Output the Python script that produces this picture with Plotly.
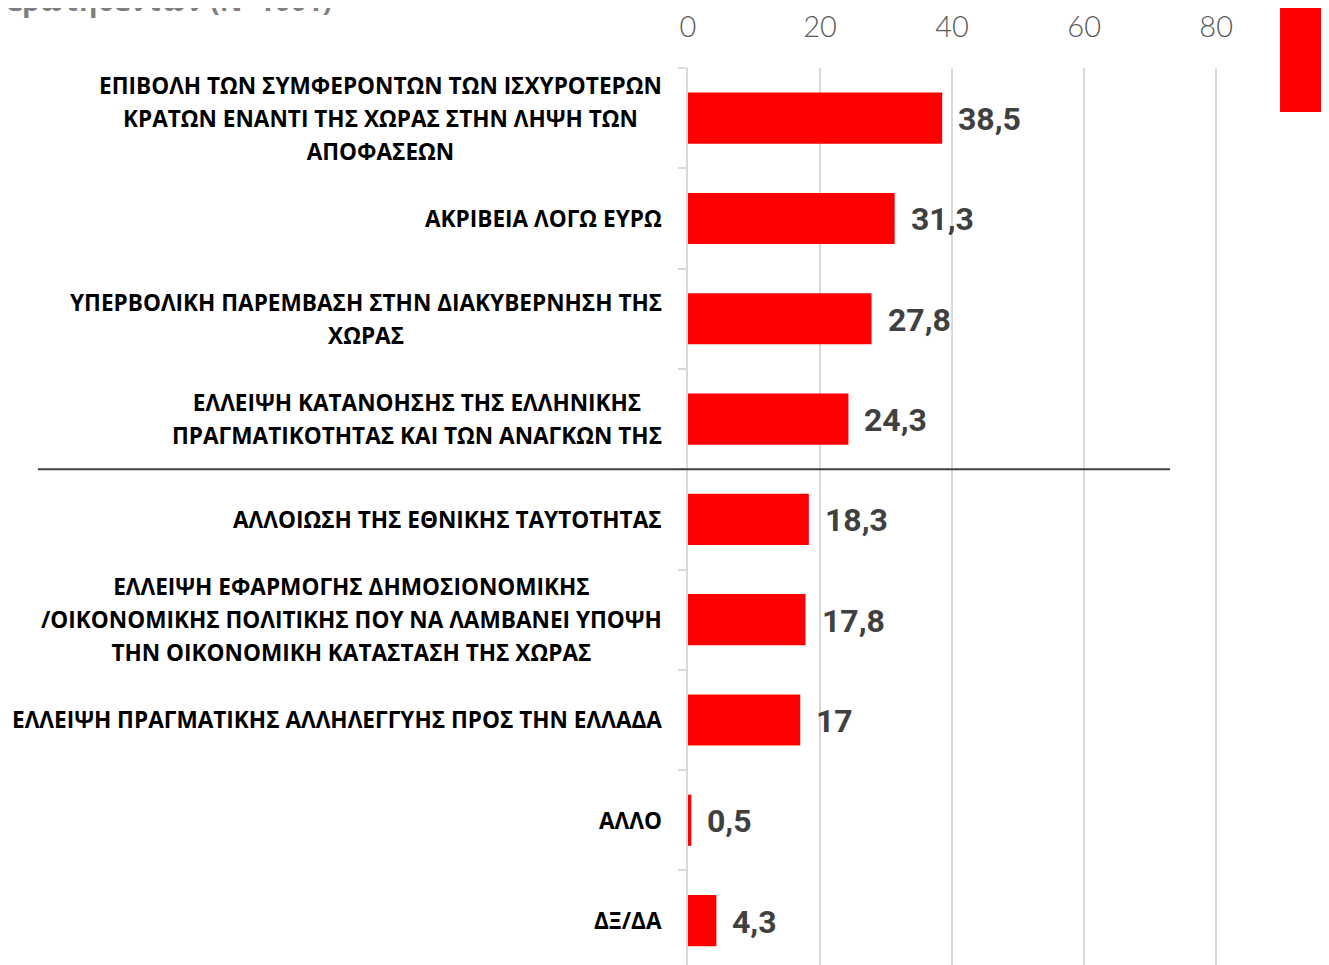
import plotly.graph_objects as go

categories = [
    "ΕΠΙΒΟΛΗ ΤΩΝ ΣΥΜΦΕΡΟΝΤΩΝ ΤΩΝ ΙΣΧΥΡΟΤΕΡΩΝ<br>ΚΡΑΤΩΝ ΕΝΑΝΤΙ ΤΗΣ ΧΩΡΑΣ ΣΤΗΝ ΛΗΨΗ ΤΩΝ<br>ΑΠΟΦΑΣΕΩΝ",
    "ΑΚΡΙΒΕΙΑ ΛΟΓΩ ΕΥΡΩ",
    "ΥΠΕΡΒΟΛΙΚΗ ΠΑΡΕΜΒΑΣΗ ΣΤΗΝ ΔΙΑΚΥΒΕΡΝΗΣΗ ΤΗΣ<br>ΧΩΡΑΣ",
    "ΕΛΛΕΙΨΗ ΚΑΤΑΝΟΗΣΗΣ ΤΗΣ ΕΛΛΗΝΙΚΗΣ<br>ΠΡΑΓΜΑΤΙΚΟΤΗΤΑΣ ΚΑΙ ΤΩΝ ΑΝΑΓΚΩΝ ΤΗΣ",
    "ΑΛΛΟΙΩΣΗ ΤΗΣ ΕΘΝΙΚΗΣ ΤΑΥΤΟΤΗΤΑΣ",
    "ΕΛΛΕΙΨΗ ΕΦΑΡΜΟΓΗΣ ΔΗΜΟΣΙΟΝΟΜΙΚΗΣ<br>/ΟΙΚΟΝΟΜΙΚΗΣ ΠΟΛΙΤΙΚΗΣ ΠΟΥ ΝΑ ΛΑΜΒΑΝΕΙ ΥΠΟΨΗ<br>ΤΗΝ ΟΙΚΟΝΟΜΙΚΗ ΚΑΤΑΣΤΑΣΗ ΤΗΣ ΧΩΡΑΣ",
    "ΕΛΛΕΙΨΗ ΠΡΑΓΜΑΤΙΚΗΣ ΑΛΛΗΛΕΓΓΥΗΣ ΠΡΟΣ ΤΗΝ ΕΛΛΑΔΑ",
    "ΑΛΛΟ",
    "ΔΞ/ΔΑ",
]
values = [38.5, 31.3, 27.8, 24.3, 18.3, 17.8, 17, 0.5, 4.3]
x_ticks = [0, 20, 40, 60, 80]
title_text = "ερωτηθέντων (Ν=1001)"

# page body has an 8px margin, so the figure is 8px smaller than the window
W, H = 1321, 957
left, right, top, bottom = 680, 60, 60, 0

fig = go.Figure(go.Bar(
    x=values,
    y=categories,
    orientation='h',
    marker_color='#ff0000',
    marker_line_width=0,
    hoverinfo='skip',
))

label_font = "Open Sans, Arial"
for cat, val in zip(categories, values):
    lines = cat.split("<br>")
    # outer size sets the line spacing (~33px), inner span sets the glyph size
    txt = "<br>".join(f"<span style='font-size:22.6px'><b>{ln}</b></span>" for ln in lines)
    fig.add_annotation(
        x=0, y=cat, xref='x', yref='y', text=txt, showarrow=False,
        xanchor='right', yanchor='middle', align='center', xshift=-24,
        font=dict(family=label_font, size=25.4, color='#000000'),
    )
    fig.add_annotation(
        x=val, y=cat, xref='x', yref='y',
        text=f"<b>{val:g}</b>".replace('.', ','), showarrow=False,
        xanchor='left', yanchor='middle', xshift=14, yshift=-1,
        font=dict(family="Roboto, Arial", size=32, color='#404040'),
    )

# cropped title remnant at the top left
fig.add_annotation(
    x=-1.1756, y=1.0525, xref='paper', yref='paper', text=f"<b>{title_text}</b>",
    showarrow=False, xanchor='left', yanchor='bottom',
    font=dict(family="Open Sans, Arial", size=28, color='#7f7f7f'),
)

# separator line between top four reasons and the rest
fig.add_shape(type='line', xref='paper', yref='paper',
              x0=-1.1188, x1=0.8296, y0=0.5527, y1=0.5527,
              line=dict(color='#404040', width=2))
# legend swatch cut at the right edge
fig.add_shape(type='rect', xref='paper', yref='paper',
              x0=1.019, x1=1.2, y0=0.951, y1=1.1,
              fillcolor='#ff0000', line_width=0)

fig.update_layout(
    width=W, height=H,
    margin=dict(l=left, r=right, t=top, b=bottom),
    plot_bgcolor='white', paper_bgcolor='white',
    bargap=0.49,
    showlegend=False,
)
fig.update_xaxes(
    side='top', range=[0, 88], tickvals=x_ticks, automargin=False,
    showgrid=True, gridcolor='#d9d9d9', gridwidth=2,
    zeroline=False, showline=False, ticks='',
    ticklabelstandoff=24,
    tickfont=dict(family="Lato, Open Sans", size=29, color='#595959', weight=300),
)
fig.update_yaxes(
    range=[8.443, -0.5], showticklabels=False, automargin=False,
    showline=True, linecolor='#d9d9d9', linewidth=2,
    ticks='outside', tickson='boundaries', ticklen=8, tickcolor='#d9d9d9', tickwidth=2,
    showgrid=False, zeroline=False,
)

fig.write_html("out.html")
